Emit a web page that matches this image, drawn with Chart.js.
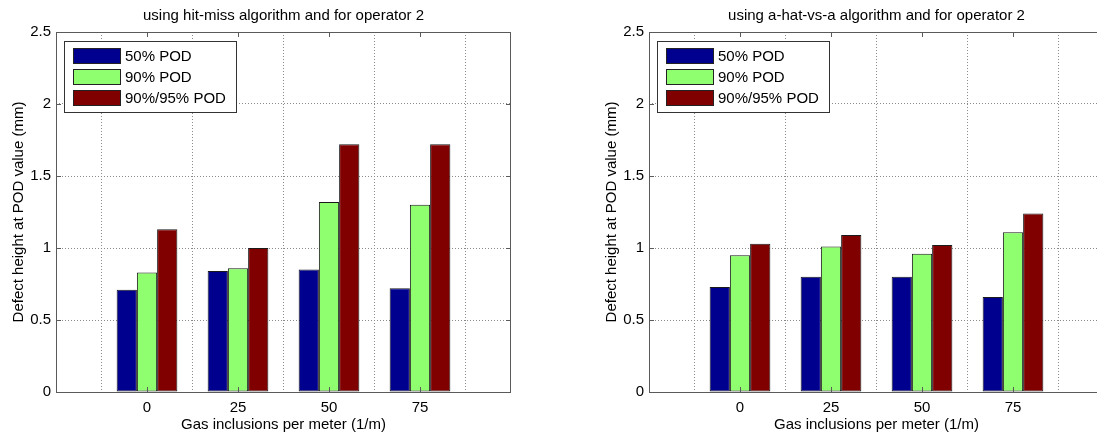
<!DOCTYPE html>
<html>
<head>
<meta charset="utf-8">
<script src="https://cdn.jsdelivr.net/npm/chart.js@4.4.0/dist/chart.umd.min.js"></script>
<style>
  html, body { margin: 0; padding: 0; background: #fff; overflow: hidden; width: 1097px; height: 439px; }
  .panel { position: absolute; top: 0; width: 560px; height: 439px; }
  #leftPanel { left: 0; }
  #rightPanel { left: 593px; }
</style>
</head>
<body>
<div class="panel" id="leftPanel"><canvas id="hitMissChart" width="560" height="439"></canvas></div>
<div class="panel" id="rightPanel"><canvas id="aHatChart" width="560" height="439"></canvas></div>
<script>
// Gas inclusion densities (1/m) on the x axis
const categories = ['0', '25', '50', '75'];
const seriesNames = ['50% POD', '90% POD', '90%/95% POD'];
const seriesColors = ['#00008f', '#8fff6f', '#800000'];

// Defect height (mm) at each POD level, hit-miss analysis, operator 2
const hitMissPod50 = [0.71, 0.84, 0.85, 0.72];
const hitMissPod90 = [0.83, 0.86, 1.32, 1.30];
const hitMissPod9095 = [1.13, 1.00, 1.72, 1.72];

// Defect height (mm) at each POD level, a-hat vs a analysis, operator 2
const aHatPod50 = [0.73, 0.80, 0.80, 0.66];
const aHatPod90 = [0.95, 1.01, 0.96, 1.11];
const aHatPod9095 = [1.03, 1.09, 1.02, 1.24];

const yTicks = [0, 0.5, 1, 1.5, 2, 2.5];
const yTickLabels = ['0', '0.5', '1', '1.5', '2', '2.5'];

const FONT = "'Liberation Sans', Arial, Helvetica, sans-serif";
const FONT_SIZE = 15;
const BOX_COLOR = '#5a5a5a';

// Empty slots either side give the axis a margin of one group spacing
const axisLabels = ['', ...categories, ''];
const padded = arr => [null, ...arr, null];

// Axes box with inward ticks, titles and an inset legend
const decorPlugin = {
  id: 'decor',
  afterDatasetsDraw(chart, args, opts) {
    const { ctx, chartArea: a, scales } = chart;
    ctx.save();
    ctx.strokeStyle = BOX_COLOR;
    ctx.lineWidth = 1;
    ctx.setLineDash([]);
    // box
    ctx.strokeRect(Math.round(a.left) + 0.5, Math.round(a.top) + 0.5,
                   Math.round(a.right - a.left) - 1, Math.round(a.bottom - a.top));
    const tl = 5;
    ctx.beginPath();
    yTicks.forEach(v => {
      const y = Math.round(scales.y.getPixelForValue(v)) + 0.5;
      ctx.moveTo(a.left, y); ctx.lineTo(a.left + tl, y);
      ctx.moveTo(a.right, y); ctx.lineTo(a.right - tl, y);
    });
    categories.forEach((c, i) => {
      const x = Math.round(scales.x.getPixelForValue(i + 1)) + 0.5;
      ctx.moveTo(x, a.top); ctx.lineTo(x, a.top + tl);
      ctx.moveTo(x, a.bottom); ctx.lineTo(x, a.bottom - tl);
    });
    ctx.stroke();

    // legend
    const lx = a.left + 8, ly = 41, lw = 172, lh = 71;
    ctx.fillStyle = '#fff';
    ctx.fillRect(lx, ly, lw, lh);
    ctx.strokeStyle = '#333';
    ctx.strokeRect(lx + 0.5, ly + 0.5, lw, lh);
    ctx.font = FONT_SIZE + 'px ' + FONT;
    ctx.textBaseline = 'middle';
    ctx.textAlign = 'left';
    chart.data.datasets.forEach((ds, i) => {
      const cy = 56 + i * 21;
      ctx.fillStyle = ds.backgroundColor;
      ctx.fillRect(lx + 9, cy - 7.5, 47, 15);
      ctx.strokeStyle = '#222';
      ctx.strokeRect(lx + 9.5, cy - 7.5, 47, 15);
      ctx.fillStyle = '#000';
      ctx.fillText(ds.label, lx + 61, cy + 1);
    });

    // titles
    const cx = (a.left + a.right) / 2;
    ctx.textAlign = 'center';
    ctx.fillText(opts.title, cx, 16);
    ctx.fillText('Gas inclusions per meter (1/m)', cx, 425);
    ctx.translate(19, (a.top + a.bottom) / 2);
    ctx.rotate(-Math.PI / 2);
    ctx.fillText('Defect height at POD value (mm)', 0, 0);
    ctx.restore();
  }
};

function makeChart(canvasId, title, s50, s90, s9095) {
  const values = [s50, s90, s9095];
  return new Chart(document.getElementById(canvasId), {
    type: 'bar',
    data: {
      labels: axisLabels,
      datasets: seriesNames.map((name, i) => ({
        label: name,
        data: padded(values[i]),
        backgroundColor: seriesColors[i],
        borderColor: '#1a1a1a',
        borderWidth: 1,
        borderSkipped: false,
        categoryPercentage: 0.667,
        barPercentage: 1.0
      }))
    },
    options: {
      responsive: false,
      animation: false,
      devicePixelRatio: 1,
      layout: { padding: { top: 32, right: 49, bottom: 0, left: 0 } },
      plugins: {
        legend: { display: false },
        title: { display: false },
        tooltip: { enabled: false },
        decor: { title: title }
      },
      scales: {
        x: {
          type: 'category',
          offset: false,
          grid: { color: '#8a8a8a', lineWidth: 1, drawTicks: false },
          border: { display: false, dash: [1, 2] },
          ticks: {
            color: '#000', padding: 7, maxRotation: 0, autoSkip: false,
            font: { family: FONT, size: FONT_SIZE }
          },
          afterFit(scale) { scale.height = 47; }
        },
        y: {
          min: 0, max: 2.5,
          grid: { color: '#8a8a8a', lineWidth: 1, drawTicks: false },
          border: { display: false, dash: [1, 2] },
          afterBuildTicks(scale) { scale.ticks = yTicks.map(v => ({ value: v })); },
          ticks: {
            color: '#000', padding: 5,
            font: { family: FONT, size: FONT_SIZE },
            callback(value) {
              const i = yTicks.indexOf(value);
              return i >= 0 ? yTickLabels[i] : '';
            }
          },
          afterFit(scale) { scale.width = 56; }
        }
      }
    },
    plugins: [decorPlugin]
  });
}

makeChart('hitMissChart', 'using hit-miss algorithm and for operator 2',
          hitMissPod50, hitMissPod90, hitMissPod9095);
makeChart('aHatChart', 'using a-hat-vs-a algorithm and for operator 2',
          aHatPod50, aHatPod90, aHatPod9095);
</script>
</body>
</html>
